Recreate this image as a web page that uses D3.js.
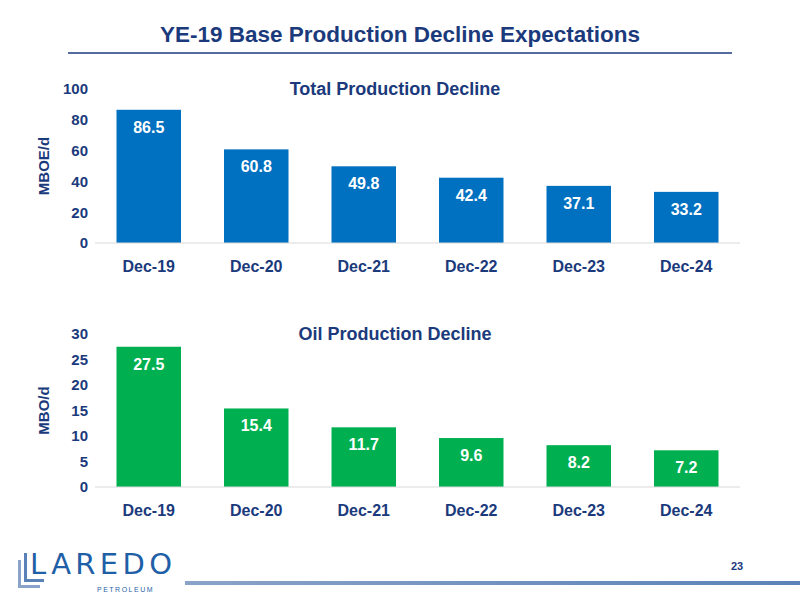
<!DOCTYPE html>
<html><head><meta charset="utf-8">
<script src="https://cdn.jsdelivr.net/npm/d3@7"></script>
<style>body{margin:0;background:#fff;font-family:Arial,"Liberation Sans",sans-serif}</style>
</head><body><div id="chart"></div>
<script>
var months = ["Dec-19", "Dec-20", "Dec-21", "Dec-22", "Dec-23", "Dec-24"];
var totalValues = [86.5, 60.8, 49.8, 42.4, 37.1, 33.2];
var oilValues = [27.5, 15.4, 11.7, 9.6, 8.2, 7.2];
var totalTicks = [0, 20, 40, 60, 80, 100];
var oilTicks = [0, 5, 10, 15, 20, 25, 30];

var navy = "#1b3a7c";
var svg = d3.select("#chart").append("svg").attr("width", 800).attr("height", 600);

svg.append("text").attr("x", 400).attr("y", 42).attr("text-anchor", "middle")
    .attr("font-size", 22.5).attr("font-weight", "bold").attr("fill", navy)
    .text("YE-19 Base Production Decline Expectations");
svg.append("line").attr("x1", 68).attr("x2", 732).attr("y1", 53).attr("y2", 53)
    .attr("stroke", navy).attr("stroke-width", 1.5);

function drawChart(opts) {
    var x = d3.scaleBand().domain(months).range([95, 740]).paddingInner(0.4).paddingOuter(0.2);
    var y = d3.scaleLinear().domain([0, opts.max]).range([opts.bottom, opts.top]);
    var g = svg.append("g");

    g.append("text").attr("x", 395).attr("y", opts.top + 6).attr("text-anchor", "middle")
        .attr("font-size", 18).attr("font-weight", "bold").attr("fill", navy).text(opts.title);

    var yAxis = g.append("g").attr("transform", "translate(88,0)")
        .call(d3.axisLeft(y).tickValues(opts.ticks).tickSize(0).tickPadding(0));
    yAxis.select(".domain").remove();
    yAxis.selectAll("text").attr("font-size", 15).attr("font-weight", "bold").attr("fill", navy)
        .attr("font-family", "Arial, 'Liberation Sans', sans-serif");

    g.append("text").attr("transform", "translate(49," + ((opts.top + opts.bottom) / 2) + ") rotate(-90)")
        .attr("text-anchor", "middle").attr("font-size", 15).attr("font-weight", "bold")
        .attr("fill", navy).text(opts.label);

    g.selectAll("rect").data(opts.values).enter().append("rect")
        .attr("x", (d, i) => x(months[i])).attr("width", x.bandwidth())
        .attr("y", d => y(d)).attr("height", d => opts.bottom - y(d)).attr("fill", opts.color);

    g.selectAll(".val").data(opts.values).enter().append("text")
        .attr("x", (d, i) => x(months[i]) + x.bandwidth() / 2).attr("y", d => y(d) + 23)
        .attr("text-anchor", "middle").attr("font-size", 16).attr("font-weight", "bold")
        .attr("fill", "#fff").text(d => d.toFixed(1));

    g.append("line").attr("x1", 95).attr("x2", 740).attr("y1", opts.bottom).attr("y2", opts.bottom)
        .attr("stroke", "#d9d9d9").attr("stroke-width", 1);

    var xAxis = g.append("g").attr("transform", "translate(0," + opts.bottom + ")")
        .call(d3.axisBottom(x).tickSize(0).tickPadding(18));
    xAxis.select(".domain").remove();
    xAxis.selectAll("text").attr("font-size", 16).attr("font-weight", "bold").attr("fill", navy)
        .attr("font-family", "Arial, 'Liberation Sans', sans-serif");
}

drawChart({title: "Total Production Decline", label: "MBOE/d", values: totalValues, ticks: totalTicks,
    max: 100, top: 89, bottom: 243, color: "#0070c0"});
drawChart({title: "Oil Production Decline", label: "MBO/d", values: oilValues, ticks: oilTicks,
    max: 30, top: 334, bottom: 487, color: "#00b050"});

// footer
var grad = svg.append("defs").append("linearGradient").attr("id", "fg");
grad.append("stop").attr("offset", "0").attr("stop-color", "#8aa3c8");
grad.append("stop").attr("offset", "1").attr("stop-color", "#5b82b8");
svg.append("rect").attr("x", 185).attr("y", 581).attr("width", 615).attr("height", 4).attr("fill", "url(#fg)");
svg.append("text").attr("x", 737).attr("y", 570).attr("text-anchor", "middle").attr("font-size", 11)
    .attr("font-weight", "bold").attr("fill", navy).text("23");

var logo = svg.append("g");
logo.append("rect").attr("x", 18).attr("y", 560).attr("width", 3).attr("height", 28).attr("fill", "#8aa3c8");
logo.append("rect").attr("x", 18).attr("y", 585).attr("width", 22).attr("height", 3).attr("fill", "#8aa3c8");
logo.append("rect").attr("x", 24).attr("y", 553).attr("width", 3).attr("height", 29).attr("fill", "#5b82b8");
logo.append("rect").attr("x", 24).attr("y", 579).attr("width", 20).attr("height", 3).attr("fill", "#5b82b8");
logo.append("text").attr("x", 30).attr("y", 574).attr("font-size", 29).attr("fill", "#1f5fa8")
    .attr("font-family", "'DejaVu Sans', sans-serif").attr("textLength", 142).text("LAREDO");
logo.append("text").attr("x", 97).attr("y", 592).attr("font-size", 7).attr("fill", "#1f5fa8")
    .attr("letter-spacing", 1.5).text("PETROLEUM");
</script></body></html>
